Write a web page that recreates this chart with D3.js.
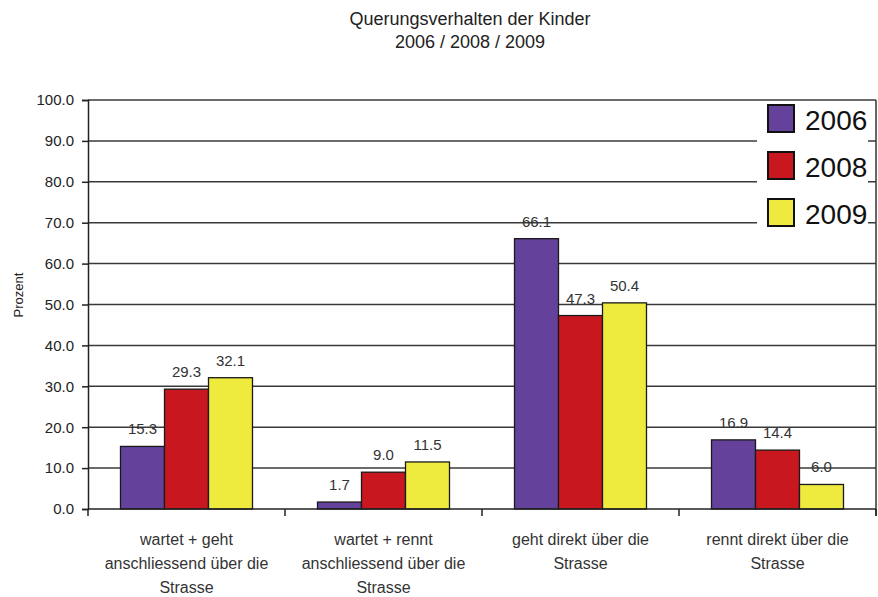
<!DOCTYPE html>
<html>
<head>
<meta charset="utf-8">
<script src="https://cdn.jsdelivr.net/npm/d3@7"></script>
<style>
  html, body { margin: 0; padding: 0; background: #fff; }
  svg { display: block; }
  text { font-family: "Liberation Sans", Arial, sans-serif; }
</style>
</head>
<body>
<svg id="chart" width="878" height="597"></svg>
<script>
// ---- data ----
const titleLines = ["Querungsverhalten der Kinder", "2006 / 2008 / 2009"];
const yAxisTitle = "Prozent";
const categories = [
  "wartet + geht\nanschliessend über die\nStrasse",
  "wartet + rennt\nanschliessend über die\nStrasse",
  "geht direkt über die\nStrasse",
  "rennt direkt über die\nStrasse"
];
const series = ["2006", "2008", "2009"];
const values2006 = [15.3, 1.7, 66.1, 16.9];
const values2008 = [29.3, 9.0, 47.3, 14.4];
const values2009 = [32.1, 11.5, 50.4, 6.0];
const yTicks = [0, 10, 20, 30, 40, 50, 60, 70, 80, 90, 100];
const colors = ["#64419a", "#c8171f", "#eeea3e"];

const seriesValues = [values2006, values2008, values2009];

// ---- layout ----
const svg = d3.select("#chart");
const mLeft = 88, mRight = 876, mTop = 100, mBottom = 509;

const x = d3.scaleBand().domain(categories).range([mLeft, mRight]).paddingInner(0).paddingOuter(0);
const bw = x.bandwidth();
const x1 = d3.scaleBand().domain(series).range([bw * 0.165, bw * 0.835]).padding(0);
const y = d3.scaleLinear().domain([0, 100]).range([mBottom, mTop]);
const color = d3.scaleOrdinal().domain(series).range(colors);

// title
svg.append("g").selectAll("text").data(titleLines).join("text")
  .attr("x", 470).attr("y", (d, i) => 25 + i * 23)
  .attr("text-anchor", "middle")
  .attr("font-size", 18).attr("fill", "#222")
  .text(d => d);

// gridlines
svg.append("g").selectAll("line").data(yTicks.filter(t => t > 0)).join("line")
  .attr("x1", mLeft).attr("x2", mRight)
  .attr("y1", d => y(d)).attr("y2", d => y(d))
  .attr("stroke", "#3a3a3a").attr("stroke-width", 1.5);

// right border
svg.append("line").attr("x1", mRight).attr("x2", mRight)
  .attr("y1", y(100)).attr("y2", y(0) + 7)
  .attr("stroke", "#333").attr("stroke-width", 1.5);

// y axis
const yAxis = svg.append("g").attr("transform", `translate(${mLeft},0)`)
  .call(d3.axisLeft(y).tickValues(yTicks).tickFormat(d3.format(".1f")).tickSize(6).tickPadding(8));
yAxis.select(".domain").attr("stroke", "#222").attr("stroke-width", 1.5);
yAxis.selectAll(".tick line").attr("stroke", "#222").attr("stroke-width", 1.5);
yAxis.selectAll(".tick text").attr("font-size", 15).attr("fill", "#222")
  .attr("font-family", "'Liberation Sans', Arial, sans-serif");

// y title
svg.append("text")
  .attr("transform", `translate(23,295) rotate(-90)`)
  .attr("text-anchor", "middle")
  .attr("font-size", 13).attr("fill", "#222")
  .text(yAxisTitle);

// bars
const groups = svg.append("g").selectAll("g").data(categories).join("g")
  .attr("transform", d => `translate(${x(d)},0)`);

groups.selectAll("rect")
  .data((d, ci) => series.map((s, si) => ({ s, v: seriesValues[si][ci] })))
  .join("rect")
  .attr("x", d => x1(d.s))
  .attr("width", x1.bandwidth())
  .attr("y", d => y(d.v))
  .attr("height", d => y(0) - y(d.v))
  .attr("fill", d => color(d.s))
  .attr("stroke", "#1a1a1a").attr("stroke-width", 1.3);

groups.selectAll("text.val")
  .data((d, ci) => series.map((s, si) => ({ s, v: seriesValues[si][ci] })))
  .join("text").attr("class", "val")
  .attr("x", d => x1(d.s) + x1.bandwidth() / 2)
  .attr("y", d => y(d.v) - 12)
  .attr("text-anchor", "middle")
  .attr("font-size", 15).attr("fill", "#333")
  .text(d => d3.format(".1f")(d.v));

// x axis line and ticks
svg.append("line").attr("x1", mLeft).attr("x2", mRight)
  .attr("y1", y(0)).attr("y2", y(0))
  .attr("stroke", "#222").attr("stroke-width", 1.5);
const boundaries = categories.map(c => x(c)).concat([x(categories[categories.length - 1]) + bw]);
svg.append("g").selectAll("line").data(boundaries).join("line")
  .attr("x1", d => d).attr("x2", d => d)
  .attr("y1", y(0)).attr("y2", y(0) + 7)
  .attr("stroke", "#222").attr("stroke-width", 1.5);

// category labels
const catLabels = svg.append("g").selectAll("text").data(categories).join("text")
  .attr("x", d => x(d) + bw / 2)
  .attr("y", y(0) + 36)
  .attr("text-anchor", "middle")
  .attr("font-size", 16).attr("fill", "#333");
catLabels.each(function(d) {
  const t = d3.select(this);
  d.split("\n").forEach((line, i) => {
    t.append("tspan").attr("x", x(d) + bw / 2).attr("dy", i === 0 ? 0 : 24).text(line);
  });
});

// legend
const lg = svg.append("g");
lg.append("rect").attr("x", 757).attr("y", 102).attr("width", 111).attr("height", 129).attr("fill", "#fff");
const items = lg.selectAll("g").data(series).join("g")
  .attr("transform", (d, i) => `translate(768,${105 + i * 47})`);
items.append("rect").attr("width", 26).attr("height", 27)
  .attr("fill", d => color(d)).attr("stroke", "#111").attr("stroke-width", 2);
items.append("text").attr("x", 37).attr("y", 25)
  .attr("font-size", 28).attr("fill", "#111")
  .text(d => d);
</script>
</body>
</html>
